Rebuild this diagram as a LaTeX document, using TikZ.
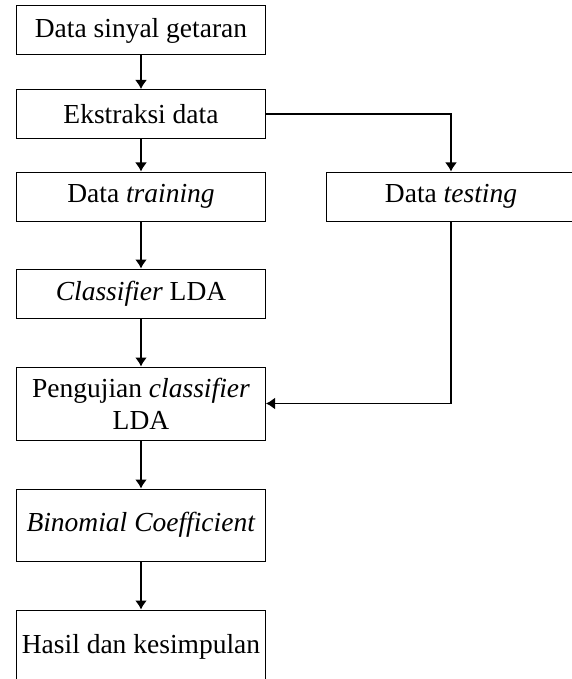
\documentclass[tikz,border=0pt]{standalone}
\usepackage{fontspec}
\setmainfont{Liberation Serif}
\usetikzlibrary{arrows.meta}

\tikzset{
    kotak/.style={draw, line width=1pt, minimum width=249pt, minimum height=49pt,
        inner sep=0pt, align=center, font=\fontsize{27.5}{32}\selectfont},
    panah/.style={-{Latex[length=9pt, width=12pt]}, line width=1.6pt}
}

\begin{document}
\begin{tikzpicture}[x=1pt, y=-1pt]

        \useasboundingbox (0, 0) rectangle (571, 679);

        \node (n1) at (141, 30.5) [kotak] {Data sinyal getaran};
        \node (n2) at (141, 114) [kotak] {Ekstraksi data};
        \node (n3) at (141, 196.5) [kotak] {Data \textit{training}};
        \node (n4) at (451, 196.5) [kotak] {Data \textit{testing}};
        \node (n5) at (141, 293.5) [kotak] {\textit{Classifier} LDA};
        \node (n6) at (141, 403.5) [kotak, minimum height=73pt] {Pengujian \textit{classifier}\\LDA};
        \node (n7) at (141, 525) [kotak, minimum height=72pt] {\textit{Binomial Coefficient}};
        \node (n8) at (141, 646.5) [kotak, minimum height=73pt] {Hasil dan kesimpulan};

        \draw [panah] (n1) -- (n2);
        \draw [panah] (n2) -- (n3);
        \draw [panah] (n2.east) -| (n4.north);
        \draw [panah] (n3) -- (n5);
        \draw [panah] (n5) -- (n6);
        \draw [panah] (n4.south) |- (n6.east);
        \draw [panah] (n6) -- (n7);
        \draw [panah] (n7) -- (n8);

    \end{tikzpicture}
\end{document}
